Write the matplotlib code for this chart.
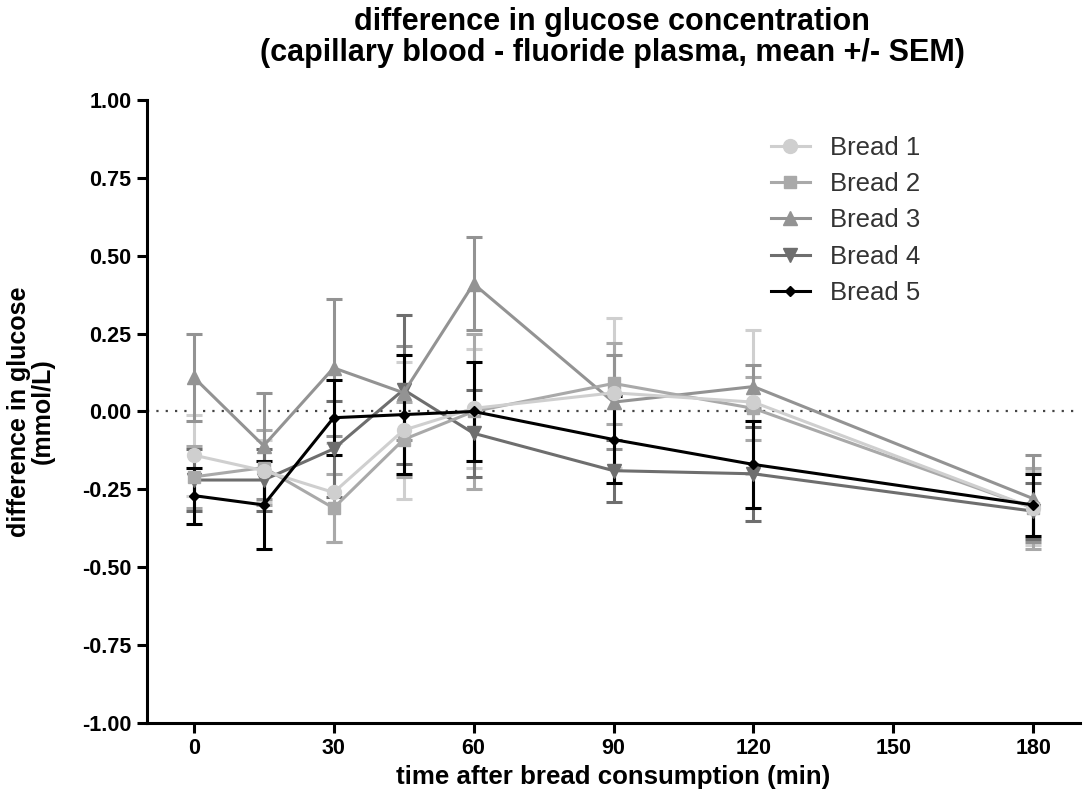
import matplotlib
matplotlib.use("Agg")
import matplotlib.pyplot as plt
from matplotlib.lines import Line2D

time_min = [0, 15, 30, 45, 60, 90, 120, 180]
series_names = ["Bread 1", "Bread 2", "Bread 3", "Bread 4", "Bread 5"]

bread1 = [-0.14, -0.19, -0.26, -0.06, 0.01, 0.06, 0.03, -0.31]
bread1_sem = [0.13, 0.10, 0.16, 0.22, 0.19, 0.24, 0.23, 0.12]
bread2 = [-0.21, -0.18, -0.31, -0.09, 0.00, 0.09, 0.01, -0.31]
bread2_sem = [0.10, 0.12, 0.11, 0.12, 0.25, 0.13, 0.10, 0.13]
bread3 = [0.11, -0.11, 0.14, 0.06, 0.41, 0.03, 0.08, -0.28]
bread3_sem = [0.14, 0.17, 0.22, 0.15, 0.15, 0.15, 0.07, 0.14]
bread4 = [-0.22, -0.22, -0.12, 0.07, -0.07, -0.19, -0.20, -0.32]
bread4_sem = [0.10, 0.10, 0.155, 0.24, 0.14, 0.10, 0.15, 0.09]
bread5 = [-0.27, -0.30, -0.02, -0.01, 0.00, -0.09, -0.17, -0.30]
bread5_sem = [0.09, 0.14, 0.12, 0.19, 0.16, 0.14, 0.14, 0.10]

x_ticks = [0, 30, 60, 90, 120, 150, 180]
y_ticks = [-1.00, -0.75, -0.50, -0.25, 0.00, 0.25, 0.50, 0.75, 1.00]

means = [bread1, bread2, bread3, bread4, bread5]
sems = [bread1_sem, bread2_sem, bread3_sem, bread4_sem, bread5_sem]
colors = ["#cfcfcf", "#a9a9a9", "#939393", "#6e6e6e", "#000000"]
markers = ["o", "s", "^", "v", "D"]
msizes = [10, 9, 10, 10, 5.5]

plt.rcParams['font.family'] = ['Liberation Sans', 'DejaVu Sans']

fig = plt.figure(figsize=(10.85, 7.98), dpi=100)
ax = fig.add_axes([0.1355, 0.094, 0.8599, 0.7807])

ax.axhline(0, color="#444444", lw=1.6, ls=(0, (1, 3.2)), zorder=1)

handles = []
for i in range(len(means)):
    ax.errorbar(time_min, means[i], yerr=sems[i], color=colors[i], fmt="none",
                elinewidth=2.2, capsize=6, capthick=2.2, zorder=2 + i * 0.1)
for i in range(len(means)):
    z = 10 - i if i < 4 else 11
    ax.plot(time_min, means[i], color=colors[i], marker=markers[i], ms=msizes[i],
            lw=2.2, zorder=z)
    handles.append(Line2D([], [], color=colors[i], marker=markers[i], ms=msizes[i], lw=2.2))

ax.set_xlim(-10, 190)
ax.set_ylim(-1.0, 1.0)
ax.set_xticks(x_ticks)
ax.set_yticks(y_ticks)
ax.set_yticklabels([f"{v:.2f}" for v in y_ticks])
ax.tick_params(axis="both", direction="out", length=7, width=2.2, labelsize=15.5, pad=4)
for lab in ax.get_xticklabels() + ax.get_yticklabels():
    lab.set_fontweight("bold")
for s in ["top", "right"]:
    ax.spines[s].set_visible(False)
for s in ["left", "bottom"]:
    ax.spines[s].set_linewidth(2.2)

ax.set_xlabel("time after bread consumption (min)", fontsize=18.6, fontweight="bold", labelpad=4)
ax.set_ylabel("difference in glucose\n(mmol/L)", fontsize=18, fontweight="bold", labelpad=20, linespacing=1.0)

fig.suptitle("difference in glucose concentration\n(capillary blood - fluoride plasma, mean +/- SEM)",
             x=0.564, y=0.991, fontsize=22, fontweight="bold", linespacing=1.05)

leg = ax.legend(handles, series_names, loc="upper left", bbox_to_anchor=(0.644, 0.98), frameon=False,
                fontsize=18.5, handlelength=1.5, labelspacing=0.48, handletextpad=0.8)
for t in leg.get_texts():
    t.set_color("#333333")

fig.savefig("out.png", dpi=100)
